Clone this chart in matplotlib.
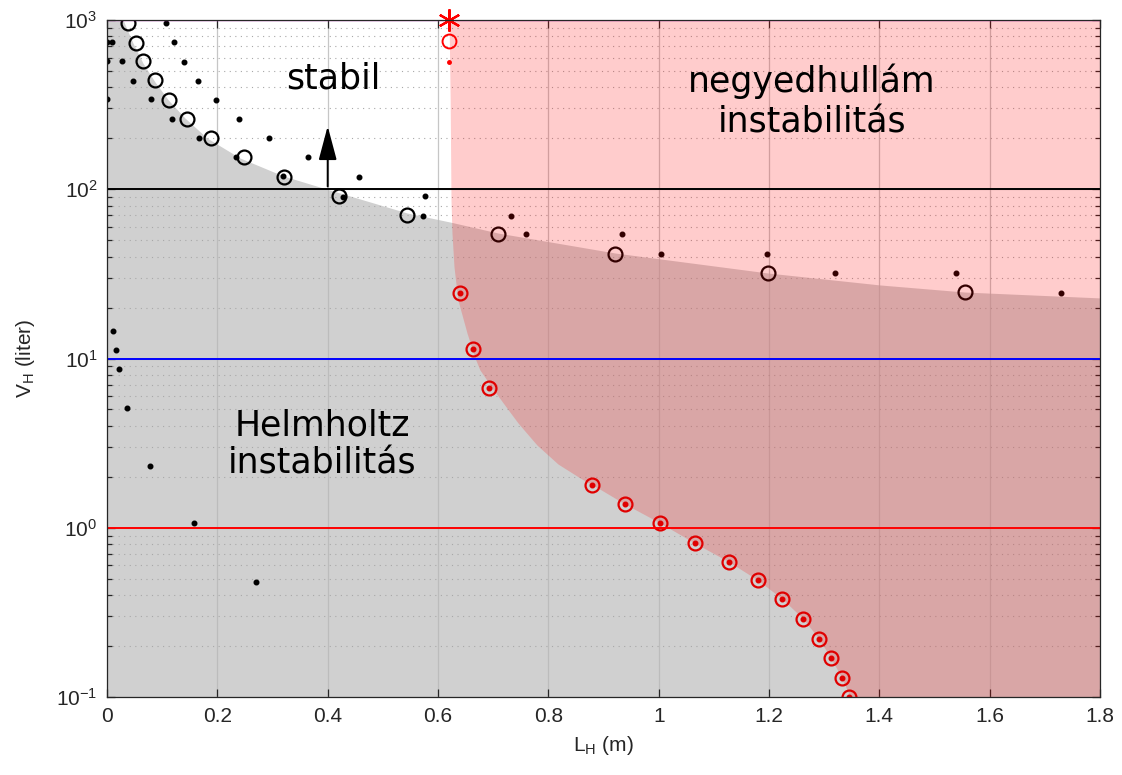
import matplotlib
matplotlib.use('Agg')
import matplotlib.pyplot as plt
from matplotlib.ticker import LogLocator, FixedLocator, FuncFormatter

# black open circles (boundary of the Helmholtz region)
circ_L = [0.038, 0.053, 0.065, 0.087, 0.112, 0.145, 0.189, 0.248, 0.321, 0.42,
          0.544, 0.709, 0.921, 1.198, 1.555]
circ_V = [960, 731, 572, 442, 337, 260, 201, 155, 118, 91, 70.5, 54.5, 41.4, 32.0, 24.7]

# small black dots
dot_L = [0.0, 0.009, 0.0, 0.027, 0.047, 0.0, 0.08, 0.118, 0.167, 0.234, 0.319,
         0.107, 0.121, 0.14, 0.165, 0.198, 0.239, 0.294, 0.364, 0.457, 0.576, 0.573, 0.428,
         0.732, 0.759, 0.933, 1.004, 1.196, 1.32, 1.539, 1.729,
         0.011, 0.016, 0.022, 0.036, 0.078, 0.158, 0.27]
dot_V = [741, 741, 572, 572, 436, 341, 341, 260, 201, 155, 120,
         960, 741, 565, 436, 337, 260, 201, 155, 118, 91, 69.6, 90,
         69.6, 54.6, 54.6, 41.5, 41.5, 32, 32, 24.4,
         14.5, 11.3, 8.68, 5.09, 2.31, 1.07, 0.48]

# red circles (quarter-wave boundary)
red_L = [0.640, 0.663, 0.692, 0.879, 0.939, 1.002, 1.066, 1.127, 1.18, 1.224,
         1.262, 1.291, 1.312, 1.332, 1.345]
red_V = [24.4, 11.4, 6.7, 1.79, 1.38, 1.07, 0.81, 0.63, 0.49, 0.38,
         0.29, 0.22, 0.17, 0.13, 0.10]

# extra red marks near the top
star_L, star_V = 0.62, 1000
redtop_circ = (0.62, 751)
redtop_dot = (0.62, 565)

# shaded region borders
gray_L = [0.0, 0.029, 0.047, 0.065, 0.087, 0.111, 0.141, 0.181, 0.241, 0.319,
          0.399, 0.477, 0.544, 0.622, 0.709, 0.921, 1.198, 1.401, 1.555, 1.8]
gray_V = [1000, 1000, 731, 557, 430, 337, 264, 201, 153, 120,
          100, 84.1, 72.4, 64.0, 55.1, 42.0, 32.0, 27.2, 24.7, 22.8]

pink_V = [1000, 337, 86.4, 55.1, 34.7, 22.2, 14.15, 10.07, 8.55, 6.60, 5.38, 4.16,
          3.08, 2.38, 1.97, 1.69, 1.38, 1.07, 0.81, 0.63, 0.49, 0.38, 0.29, 0.22,
          0.17, 0.13, 0.10]
pink_L = [0.620, 0.622, 0.6235, 0.6253, 0.629, 0.636, 0.6525, 0.667, 0.676, 0.6997,
          0.7196, 0.745, 0.7794, 0.8175, 0.8574, 0.8936, 0.939, 1.002, 1.066, 1.127,
          1.18, 1.224, 1.262, 1.291, 1.312, 1.332, 1.347]

plt.rcParams['font.family'] = ['Liberation Sans', 'DejaVu Sans']
plt.rcParams['mathtext.default'] = 'regular'
axc = '#262626'
txt_font = ['DejaVu Sans']

fig = plt.figure(figsize=(11.22, 7.75), dpi=100)
ax = fig.add_axes([0.0954, 0.1006, 0.9804 - 0.0954, 0.9742 - 0.1006])
ax.set_yscale('log')
ax.set_xlim(0, 1.8)
ax.set_ylim(0.1, 1000)

ax.fill_between(gray_L, 0.1, gray_V, color='#d0d0d0', lw=0, zorder=1)

ax.plot(circ_L, circ_V, 'o', mfc='none', mec='k', ms=10, mew=1.6, zorder=2.1)
ax.plot(dot_L, dot_V, 'o', color='k', ms=3.3, zorder=2.1)

ax.fill_betweenx(pink_V, pink_L, 1.8, color='red', alpha=0.2, lw=0, zorder=2.2)

ax.plot(red_L, red_V, 'o', mfc='none', mec='#e00000', ms=10, mew=1.6, zorder=3)
ax.plot(red_L, red_V, 'o', color='#e00000', ms=3.3, zorder=3)
ax.plot(*redtop_circ, 'o', mfc='none', mec='red', ms=10, mew=1.4, zorder=3, clip_on=False)
ax.plot(*redtop_dot, 'o', color='red', ms=2.5, zorder=3)
ax.plot(star_L, star_V, marker=(6, 2, 0), color='red', ms=16, mew=1.6, zorder=4, clip_on=False)

ax.axhline(1000, color='#ff00ff', lw=1.6, zorder=3.5)
ax.axhline(100, color='k', lw=1.4, zorder=3)
ax.axhline(10, color='#0000ff', lw=1.4, zorder=3)
ax.axhline(1, color='#ff0000', lw=1.4, zorder=3)

ax.annotate('', xy=(0.4, 245), xytext=(0.4, 100),
            arrowprops=dict(arrowstyle='-|>,head_length=1.05,head_width=0.28',
                            color='k', lw=1.4, mutation_scale=20), zorder=4)

ax.text(0.41, 450, 'stabil', fontsize=25, ha='center', va='center',
        family=txt_font, zorder=5)
ax.text(1.278, 330, 'negyedhullám\ninstabilitás', fontsize=25, ha='center',
        va='center', linespacing=1.25, family=txt_font, zorder=5)
ax.text(0.39, 3.1, 'Helmholtz\ninstabilitás', fontsize=25, ha='center',
        va='center', linespacing=1.15, family=txt_font, zorder=5)

# ticks and grid, matlab-like
ax.xaxis.set_major_locator(FixedLocator([0, 0.2, 0.4, 0.6, 0.8, 1.0, 1.2, 1.4, 1.6, 1.8]))
ax.xaxis.set_major_formatter(FuncFormatter(lambda v, p: '%g' % v))
ax.yaxis.set_major_locator(LogLocator(base=10, numticks=10))
ax.yaxis.set_minor_locator(LogLocator(base=10, subs=range(2, 10), numticks=20))
ax.grid(True, axis='x', which='major', color='#b8b8b8', lw=0.9, alpha=0.8)
ax.grid(True, axis='y', which='major', color='#b8b8b8', lw=0.9, alpha=0.8)
ax.grid(True, axis='y', which='minor', color='#a8a8a8', lw=0.8, ls=(0, (1, 4)))
ax.tick_params(which='both', direction='in', top=True, right=True, colors=axc,
               labelsize=15, labelcolor='#262626')
ax.tick_params(which='major', length=6, width=0.9, pad=7)
ax.tick_params(which='minor', length=3.5, width=0.9)
for s in ax.spines.values():
    s.set_color(axc)
    s.set_linewidth(0.9)
    s.set_zorder(5)

ax.set_xlabel('L$_H$ (m)', fontsize=15, color='#262626', labelpad=6)
ax.set_ylabel('V$_H$ (liter)', fontsize=15, color='#262626', labelpad=14)

fig.savefig('out.png', dpi=100)
